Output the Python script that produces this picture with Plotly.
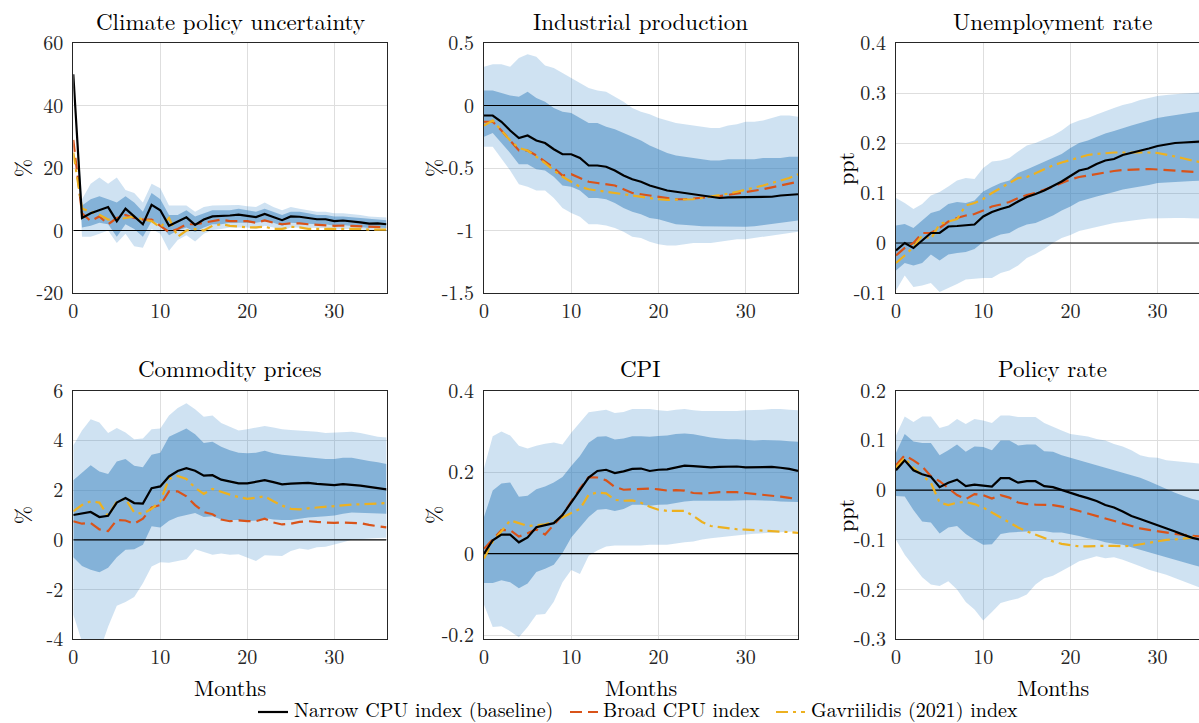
import plotly.graph_objects as go

# ---------------------------------------------------------------
# Impulse responses to a climate policy uncertainty shock (months 0-36)
# Narrow CPU index (baseline) with 68% and 90% bands, plus two
# alternative CPU measures.
# ---------------------------------------------------------------
months = list(range(37))

# Climate policy uncertainty (%)
cpu_narrow = [50, 4, 5.5, 6.5, 7.5, 3, 7, 4.5, 2, 8.2, 6.5, 1.5, 2.8, 4.2, 1.8, 3.5, 4.5, 4.6, 4.8, 5.1,
              4.6, 4.3, 5.3, 4.3, 3.3, 4.5, 4.4, 4.0, 3.6, 3.6, 3.0, 3.2, 3.0, 2.6, 2.2, 2.3, 2.0]
cpu_broad = [29, 5.5, 3, 4.5, 2, 4, 5, 4, 3.5, 3.5, 1.5, -0.5, 0.5, 2, 2, 2.5, 3, 3.5, 3, 3,
             3, 2.5, 3.2, 2.5, 2, 2.3, 2.3, 2, 1.8, 1.8, 1.5, 1.6, 1.5, 1.3, 1.1, 1.1, 1.0]
cpu_gav = [25, 7, 6, 5, 3.5, 3.5, 4, 4.5, 3.5, 3, 1, 4, -2, 0, 0.5, 0, 1.5, 2, 1.5, 1.2,
           1, 1, 1.2, 0.5, 0.5, 1.2, 1, 0.5, 0.5, 0.5, 0.7, 0.5, 0.5, 0.5, 0.3, 0.3, 0.3]
cpu_hi68 = [50, 8, 10, 11, 10, 9, 11, 9, 6, 12, 10, 5, 5, 6.5, 4.5, 5.5, 6.5, 6.5, 6.5, 7,
            6.5, 6, 7, 6, 5, 6, 6, 5.5, 5, 5, 4.5, 4.5, 4.3, 4, 3.7, 3.5, 3.3]
cpu_lo68 = [50, 1, 1.5, 2.5, 2, -2, 2, 0.5, -2, 3, 2, -1.5, 0, 1, -0.5, 1, 2, 2, 2.5, 2.5,
            2.5, 2.5, 3, 2.5, 1.5, 2.5, 2.5, 2.2, 2, 2, 1.5, 1.8, 1.5, 1.2, 0.8, 1, 0.8]
cpu_hi90 = [50, 10, 15, 17, 15, 17, 13, 12, 9, 15, 13.5, 8, 8, 8, 6, 7.5, 8, 8, 8, 8.2,
            7.8, 7.5, 9, 7.5, 6.5, 7.5, 7, 6.5, 6, 6, 5.5, 5.5, 5.3, 5, 4.5, 4.3, 4.2]
cpu_lo90 = [50, -2, -2, -1, 0, -4, -1, -5, -5.5, 0.5, -1, -6.5, -3, -1.5, -3.5, -1, 0.2, 0.5, 1, 1,
            1, 0.5, 1.5, 1, 0, 1, 1, 0.8, 0.8, 0.8, 0.3, 0.5, 0.5, 0.2, 0, 0, -0.2]

# Industrial production (%)
ip_narrow = [-0.08, -0.08, -0.13, -0.2, -0.26, -0.24, -0.28, -0.3, -0.35, -0.39, -0.39, -0.42, -0.48,
             -0.48, -0.49, -0.52, -0.56, -0.59, -0.61, -0.64, -0.66, -0.68, -0.69, -0.70, -0.71, -0.72,
             -0.73, -0.74, -0.735, -0.735, -0.735, -0.735, -0.735, -0.73, -0.72, -0.715, -0.71]
ip_broad = [-0.13, -0.13, -0.2, -0.28, -0.36, -0.36, -0.4, -0.45, -0.5, -0.56, -0.55, -0.58, -0.61,
            -0.62, -0.63, -0.64, -0.67, -0.70, -0.71, -0.72, -0.73, -0.74, -0.75, -0.75, -0.745, -0.74,
            -0.735, -0.725, -0.715, -0.705, -0.695, -0.68, -0.67, -0.655, -0.64, -0.625, -0.61]
ip_gav = [-0.16, -0.12, -0.2, -0.28, -0.34, -0.36, -0.41, -0.46, -0.52, -0.57, -0.61, -0.65, -0.67,
          -0.68, -0.69, -0.7, -0.71, -0.72, -0.73, -0.745, -0.75, -0.755, -0.755, -0.755, -0.75, -0.74,
          -0.73, -0.72, -0.705, -0.69, -0.675, -0.66, -0.64, -0.62, -0.6, -0.58, -0.55]
ip_hi68 = [0.12, 0.12, 0.1, 0.08, 0.07, 0.11, 0.06, 0.03, -0.02, -0.05, -0.06, -0.1, -0.14, -0.14,
           -0.17, -0.19, -0.22, -0.25, -0.28, -0.32, -0.35, -0.38, -0.40, -0.41, -0.42, -0.43, -0.44,
           -0.44, -0.43, -0.43, -0.43, -0.43, -0.42, -0.42, -0.42, -0.41, -0.41]
ip_lo68 = [-0.25, -0.22, -0.3, -0.38, -0.47, -0.47, -0.51, -0.52, -0.57, -0.64, -0.65, -0.68, -0.74,
           -0.74, -0.75, -0.78, -0.82, -0.85, -0.87, -0.9, -0.91, -0.93, -0.95, -0.955, -0.96, -0.965,
           -0.97, -0.97, -0.97, -0.97, -0.97, -0.965, -0.96, -0.95, -0.94, -0.93, -0.92]
ip_hi90 = [0.31, 0.33, 0.33, 0.31, 0.38, 0.41, 0.39, 0.32, 0.3, 0.26, 0.22, 0.18, 0.14, 0.12, 0.11,
           0.07, 0.03, -0.02, -0.05, -0.07, -0.1, -0.12, -0.14, -0.15, -0.16, -0.17, -0.18, -0.18,
           -0.16, -0.15, -0.13, -0.13, -0.12, -0.1, -0.08, -0.08, -0.09]
ip_lo90 = [-0.33, -0.33, -0.42, -0.52, -0.63, -0.65, -0.68, -0.68, -0.74, -0.82, -0.86, -0.89, -0.95,
           -0.95, -0.96, -0.98, -1.01, -1.05, -1.06, -1.09, -1.11, -1.12, -1.12, -1.11, -1.1, -1.1,
           -1.1, -1.09, -1.08, -1.07, -1.07, -1.06, -1.05, -1.04, -1.03, -1.02, -1.01]

# Unemployment rate (ppt)
ur_narrow = [-0.015, 0.0, -0.01, 0.005, 0.02, 0.02, 0.033, 0.034, 0.035, 0.037, 0.053, 0.062, 0.068,
             0.073, 0.083, 0.092, 0.098, 0.105, 0.114, 0.123, 0.134, 0.145, 0.149, 0.158, 0.165, 0.168,
             0.176, 0.18, 0.184, 0.189, 0.194, 0.197, 0.2, 0.201, 0.202, 0.203, 0.204]
ur_broad = [-0.025, -0.01, 0.0, 0.02, 0.02, 0.03, 0.043, 0.05, 0.055, 0.058, 0.065, 0.073, 0.077,
            0.082, 0.09, 0.096, 0.1, 0.106, 0.113, 0.12, 0.127, 0.132, 0.135, 0.139, 0.142, 0.144,
            0.146, 0.147, 0.148, 0.148, 0.147, 0.146, 0.145, 0.144, 0.142, 0.141, 0.14]
ur_gav = [-0.04, -0.025, -0.008, 0.015, 0.008, 0.038, 0.043, 0.048, 0.075, 0.08, 0.088, 0.1, 0.11,
          0.12, 0.13, 0.132, 0.14, 0.148, 0.155, 0.161, 0.166, 0.172, 0.176, 0.178, 0.18, 0.181,
          0.181, 0.181, 0.182, 0.181, 0.18, 0.177, 0.173, 0.169, 0.165, 0.161, 0.157]
ur_hi68 = [0.035, 0.038, 0.03, 0.045, 0.06, 0.065, 0.078, 0.082, 0.08, 0.085, 0.103, 0.112, 0.12,
           0.125, 0.14, 0.147, 0.155, 0.162, 0.17, 0.178, 0.19, 0.2, 0.205, 0.212, 0.219, 0.224,
           0.23, 0.235, 0.24, 0.245, 0.25, 0.253, 0.256, 0.258, 0.261, 0.263, 0.265]
ur_lo68 = [-0.055, -0.04, -0.045, -0.04, -0.023, -0.035, -0.023, -0.02, -0.018, -0.012, 0.002, 0.01,
           0.017, 0.02, 0.03, 0.037, 0.04, 0.047, 0.055, 0.065, 0.073, 0.083, 0.088, 0.093, 0.098,
           0.102, 0.107, 0.11, 0.113, 0.116, 0.12, 0.121, 0.122, 0.123, 0.124, 0.125, 0.125]
ur_hi90 = [0.09, 0.08, 0.068, 0.078, 0.095, 0.102, 0.113, 0.125, 0.13, 0.128, 0.15, 0.163, 0.165,
           0.17, 0.183, 0.195, 0.2, 0.207, 0.215, 0.225, 0.238, 0.245, 0.25, 0.257, 0.264, 0.27,
           0.276, 0.28, 0.286, 0.29, 0.294, 0.296, 0.298, 0.299, 0.3, 0.302, 0.303]
ur_lo90 = [-0.095, -0.065, -0.088, -0.085, -0.08, -0.098, -0.09, -0.082, -0.073, -0.072, -0.07, -0.07,
           -0.06, -0.055, -0.045, -0.03, -0.022, -0.012, 0.0, 0.01, 0.016, 0.024, 0.028, 0.032, 0.036,
           0.04, 0.042, 0.045, 0.047, 0.049, 0.05, 0.05, 0.05, 0.05, 0.05, 0.049, 0.048]

# Commodity prices (%)
com_narrow = [1.0, 1.05, 1.12, 0.92, 0.97, 1.5, 1.68, 1.48, 1.46, 2.08, 2.15, 2.55, 2.77, 2.88, 2.78,
              2.58, 2.6, 2.42, 2.33, 2.27, 2.27, 2.32, 2.4, 2.32, 2.23, 2.26, 2.27, 2.29, 2.25, 2.21,
              2.2, 2.24, 2.22, 2.18, 2.13, 2.08, 2.03]
com_broad = [0.75, 0.65, 0.68, 0.42, 0.35, 0.8, 0.78, 0.65, 0.85, 1.3, 1.4, 1.95, 1.95, 1.75, 1.4,
             1.12, 1.03, 0.82, 0.75, 0.78, 0.75, 0.75, 0.85, 0.7, 0.62, 0.65, 0.72, 0.75, 0.72, 0.7,
             0.68, 0.7, 0.7, 0.67, 0.6, 0.55, 0.5]
com_gav = [1.15, 1.4, 1.55, 1.5, 0.95, 1.55, 1.65, 1.1, 1.05, 1.25, 1.55, 2.45, 2.57, 2.45, 2.1, 1.85,
           2.05, 1.92, 1.82, 1.72, 1.65, 1.7, 1.75, 1.55, 1.38, 1.25, 1.23, 1.27, 1.3, 1.32, 1.38,
           1.4, 1.42, 1.43, 1.44, 1.46, 1.48]
com_hi68 = [2.4, 2.7, 3.0, 2.75, 2.65, 3.15, 3.25, 2.98, 2.92, 3.42, 3.5, 4.15, 4.3, 4.48, 4.25, 3.9,
            3.95, 3.75, 3.6, 3.5, 3.48, 3.5, 3.58, 3.48, 3.42, 3.38, 3.35, 3.3, 3.28, 3.25, 3.25,
            3.3, 3.3, 3.25, 3.17, 3.12, 3.05]
com_lo68 = [-0.7, -1.05, -1.2, -1.3, -1.12, -0.7, -0.4, -0.38, -0.2, 0.55, 0.5, 0.77, 0.92, 1.0, 1.08,
            0.92, 0.95, 0.82, 0.8, 0.8, 0.75, 0.78, 0.88, 0.82, 0.8, 0.8, 0.85, 0.9, 0.93, 0.95,
            0.98, 1.05, 1.1, 1.1, 1.08, 1.06, 1.05]
com_hi90 = [3.8, 4.4, 4.85, 4.72, 4.3, 4.5, 4.32, 4.05, 4.08, 4.45, 4.48, 5.0, 5.3, 5.5, 5.25, 4.95,
            5.0, 4.7, 4.55, 4.4, 4.45, 4.5, 4.58, 4.52, 4.45, 4.42, 4.4, 4.35, 4.35, 4.3, 4.32,
            4.35, 4.35, 4.3, 4.22, 4.15, 4.12]
com_lo90 = [-3.0, -4.1, -5.0, -4.5, -3.5, -2.65, -2.5, -2.3, -1.75, -1.07, -0.9, -0.92, -0.86, -0.78,
            -0.38, -0.5, -0.6, -0.55, -0.6, -0.58, -0.7, -0.85, -0.62, -0.62, -0.65, -0.45, -0.35,
            -0.4, -0.3, -0.28, -0.2, -0.1, 0.0, 0.02, 0.05, 0.07, 0.08]

# CPI (%)
cpi_narrow = [0.0, 0.033, 0.047, 0.047, 0.028, 0.04, 0.065, 0.07, 0.075, 0.095, 0.125, 0.158, 0.187,
              0.203, 0.206, 0.198, 0.202, 0.208, 0.209, 0.203, 0.206, 0.207, 0.212, 0.216, 0.215,
              0.213, 0.212, 0.213, 0.214, 0.214, 0.212, 0.212, 0.213, 0.213, 0.211, 0.208, 0.203]
cpi_broad = [0.012, 0.035, 0.058, 0.058, 0.042, 0.05, 0.06, 0.047, 0.07, 0.095, 0.128, 0.16, 0.188,
             0.187, 0.18, 0.164, 0.157, 0.158, 0.16, 0.16, 0.158, 0.155, 0.156, 0.155, 0.149, 0.148,
             0.149, 0.151, 0.151, 0.151, 0.149, 0.147, 0.145, 0.143, 0.14, 0.137, 0.134]
cpi_gav = [-0.012, 0.03, 0.055, 0.082, 0.075, 0.068, 0.07, 0.072, 0.078, 0.09, 0.1, 0.11, 0.145, 0.15,
           0.148, 0.132, 0.13, 0.131, 0.125, 0.115, 0.108, 0.105, 0.105, 0.105, 0.093, 0.078, 0.068,
           0.065, 0.063, 0.06, 0.059, 0.058, 0.057, 0.056, 0.055, 0.053, 0.051]
cpi_hi68 = [0.09, 0.155, 0.172, 0.175, 0.14, 0.142, 0.158, 0.165, 0.175, 0.188, 0.215, 0.24, 0.272,
            0.287, 0.288, 0.28, 0.283, 0.288, 0.288, 0.287, 0.289, 0.29, 0.294, 0.295, 0.293, 0.289,
            0.285, 0.283, 0.281, 0.281, 0.279, 0.278, 0.279, 0.279, 0.278, 0.276, 0.275]
cpi_lo68 = [-0.072, -0.072, -0.065, -0.07, -0.085, -0.073, -0.045, -0.037, -0.027, 0.002, 0.04, 0.065,
            0.09, 0.108, 0.11, 0.105, 0.11, 0.12, 0.12, 0.118, 0.12, 0.121, 0.125, 0.128, 0.13, 0.13,
            0.13, 0.13, 0.13, 0.13, 0.131, 0.131, 0.131, 0.13, 0.128, 0.127, 0.127]
cpi_hi90 = [0.21, 0.288, 0.3, 0.29, 0.265, 0.258, 0.265, 0.27, 0.273, 0.268, 0.297, 0.323, 0.347,
            0.35, 0.353, 0.345, 0.348, 0.355, 0.355, 0.355, 0.352, 0.35, 0.353, 0.355, 0.352, 0.35,
            0.35, 0.35, 0.35, 0.35, 0.352, 0.352, 0.353, 0.355, 0.355, 0.353, 0.352]
cpi_lo90 = [-0.125, -0.18, -0.178, -0.19, -0.205, -0.18, -0.15, -0.148, -0.118, -0.07, -0.04, -0.05,
            -0.005, 0.008, 0.018, 0.02, 0.02, 0.02, 0.02, 0.022, 0.022, 0.022, 0.025, 0.028, 0.03,
            0.035, 0.038, 0.04, 0.042, 0.045, 0.047, 0.049, 0.05, 0.052, 0.053, 0.054, 0.055]

# Policy rate (ppt)
pr_narrow = [0.04, 0.06, 0.04, 0.032, 0.027, 0.006, 0.015, 0.021, 0.008, 0.011, 0.009, 0.007, 0.024,
             0.024, 0.015, 0.018, 0.018, 0.008, 0.006, 0.0, -0.006, -0.011, -0.016, -0.022, -0.03,
             -0.035, -0.043, -0.052, -0.058, -0.064, -0.071, -0.077, -0.083, -0.09, -0.096, -0.1, -0.104]
pr_broad = [0.05, 0.07, 0.06, 0.048, 0.028, 0.018, 0.004, -0.01, -0.018, -0.008, -0.01, -0.017, -0.01,
            -0.015, -0.025, -0.028, -0.029, -0.03, -0.03, -0.033, -0.037, -0.042, -0.047, -0.052,
            -0.057, -0.062, -0.068, -0.073, -0.077, -0.08, -0.083, -0.086, -0.088, -0.09, -0.092,
            -0.094, -0.095]
pr_gav = [0.045, 0.065, 0.045, 0.03, 0.015, -0.025, -0.03, -0.025, -0.024, -0.028, -0.035, -0.045,
          -0.055, -0.065, -0.075, -0.083, -0.09, -0.097, -0.103, -0.108, -0.111, -0.113, -0.113,
          -0.112, -0.112, -0.112, -0.113, -0.112, -0.109, -0.106, -0.103, -0.1, -0.099, -0.097,
          -0.096, -0.094, -0.092]
pr_hi68 = [0.075, 0.113, 0.098, 0.095, 0.095, 0.07, 0.08, 0.092, 0.077, 0.088, 0.087, 0.08, 0.1, 0.1,
           0.09, 0.092, 0.092, 0.078, 0.077, 0.07, 0.065, 0.06, 0.055, 0.05, 0.045, 0.04, 0.035, 0.03,
           0.025, 0.018, 0.01, 0.003, -0.005, -0.012, -0.018, -0.022, -0.025]
pr_lo68 = [-0.012, -0.013, -0.04, -0.063, -0.065, -0.087, -0.075, -0.072, -0.088, -0.1, -0.11, -0.109,
           -0.088, -0.085, -0.085, -0.083, -0.082, -0.082, -0.085, -0.085, -0.088, -0.092, -0.097,
           -0.1, -0.105, -0.108, -0.11, -0.115, -0.12, -0.125, -0.13, -0.135, -0.14, -0.145, -0.15,
           -0.155, -0.158]
pr_hi90 = [0.11, 0.148, 0.137, 0.148, 0.148, 0.125, 0.13, 0.143, 0.133, 0.143, 0.14, 0.135, 0.15, 0.15,
           0.147, 0.147, 0.147, 0.135, 0.127, 0.12, 0.113, 0.111, 0.108, 0.103, 0.1, 0.093, 0.088,
           0.08, 0.07, 0.066, 0.065, 0.06, 0.058, 0.057, 0.055, 0.053, 0.052]
pr_lo90 = [-0.1, -0.13, -0.152, -0.175, -0.19, -0.193, -0.183, -0.2, -0.225, -0.24, -0.262, -0.245,
           -0.227, -0.222, -0.218, -0.21, -0.19, -0.177, -0.172, -0.162, -0.153, -0.143, -0.138,
           -0.133, -0.137, -0.135, -0.14, -0.146, -0.153, -0.16, -0.165, -0.17, -0.177, -0.183,
           -0.19, -0.197, -0.2]

# Panel titles, units and axis ticks
titles = ["Climate policy uncertainty", "Industrial production", "Unemployment rate",
          "Commodity prices", "CPI", "Policy rate"]
units = ["%", "%", "ppt", "%", "%", "ppt"]
y_ranges = [[-20, 60], [-1.5, 0.5], [-0.1, 0.4], [-4, 6], [-0.21, 0.4], [-0.3, 0.2]]
y_tickvals = [[-20, 0, 20, 40, 60], [-1.5, -1, -0.5, 0, 0.5], [-0.1, 0, 0.1, 0.2, 0.3, 0.4],
              [-4, -2, 0, 2, 4, 6], [-0.2, 0, 0.2, 0.4], [-0.3, -0.2, -0.1, 0, 0.1, 0.2]]
y_ticktext = [["-20", "0", "20", "40", "60"], ["-1.5", "-1", "-0.5", "0", "0.5"],
              ["-0.1", "0", "0.1", "0.2", "0.3", "0.4"], ["-4", "-2", "0", "2", "4", "6"],
              ["-0.2", "0", "0.2", "0.4"], ["-0.3", "-0.2", "-0.1", "0", "0.1", "0.2"]]
x_tickvals = [0, 10, 20, 30]
series_names = ["Narrow CPU index (baseline)", "Broad CPU index", "Gavriilidis (2021) index"]

panels = [
    (cpu_narrow, cpu_broad, cpu_gav, cpu_hi68, cpu_lo68, cpu_hi90, cpu_lo90),
    (ip_narrow, ip_broad, ip_gav, ip_hi68, ip_lo68, ip_hi90, ip_lo90),
    (ur_narrow, ur_broad, ur_gav, ur_hi68, ur_lo68, ur_hi90, ur_lo90),
    (com_narrow, com_broad, com_gav, com_hi68, com_lo68, com_hi90, com_lo90),
    (cpi_narrow, cpi_broad, cpi_gav, cpi_hi68, cpi_lo68, cpi_hi90, cpi_lo90),
    (pr_narrow, pr_broad, pr_gav, pr_hi68, pr_lo68, pr_hi90, pr_lo90),
]

# ---------------------------------------------------------------
W, H = 1199, 723
FONT = "Latin Modern Roman"
INK = "rgb(38,38,38)"
BAND90 = "rgba(30,120,195,0.21)"
BAND68 = "rgba(58,129,190,0.5)"
GRID = "rgb(222,222,222)"
RED = "rgb(217,83,25)"
YELLOW = "rgb(237,177,32)"
RED_DASH = "12px,6px"
YEL_DASH = "12px,5px,3px,5px"
LINE_STYLES = [dict(color="black", width=2.2),
               dict(color=RED, width=2.2, dash=RED_DASH),
               dict(color=YELLOW, width=2.2, dash=YEL_DASH)]

# plot-area positions (pixels): columns left/right, rows top/bottom
col_px = [(73.3, 386.5), (484.0, 798.0), (896.0, 1199.0)]
row_px = [(43.0, 293.0), (390.7, 639.3)]
PX_PER_MONTH = 8.72
x_max = [36, 36, (1199.0 - 896.0) / PX_PER_MONTH]

fig = go.Figure()
layout = dict(
    width=W, height=H, margin=dict(l=0, r=0, t=0, b=0, autoexpand=False),
    paper_bgcolor="white", plot_bgcolor="white",
    font=dict(family=FONT, size=20, color=INK),
    showlegend=False,
)
annotations = []
shapes = []

for i, (narrow, broad, gav, hi68, lo68, hi90, lo90) in enumerate(panels):
    r, c = divmod(i, 3)
    n = i + 1
    xa = "x" if n == 1 else f"x{n}"
    ya = "y" if n == 1 else f"y{n}"
    (x0, x1), (top, bot) = col_px[c], row_px[r]
    x_center = (x0 + x0 + 36 * PX_PER_MONTH) / 2

    # 90% and 68% bands
    fig.add_trace(go.Scatter(x=months + months[::-1], y=hi90 + lo90[::-1], fill="toself",
                             fillcolor=BAND90, line=dict(width=0), mode="lines",
                             hoverinfo="skip", xaxis=xa, yaxis=ya))
    fig.add_trace(go.Scatter(x=months + months[::-1], y=hi68 + lo68[::-1], fill="toself",
                             fillcolor=BAND68, line=dict(width=0), mode="lines",
                             hoverinfo="skip", xaxis=xa, yaxis=ya))
    # zero line
    fig.add_trace(go.Scatter(x=[0, 36], y=[0, 0], mode="lines",
                             line=dict(color="black", width=1.2),
                             hoverinfo="skip", xaxis=xa, yaxis=ya))
    # responses (broad, Gavriilidis, then baseline on top)
    for k, series in ((1, broad), (2, gav), (0, narrow)):
        fig.add_trace(go.Scatter(x=months, y=series, mode="lines", name=series_names[k],
                                 line=LINE_STYLES[k], xaxis=xa, yaxis=ya))

    layout["xaxis" if n == 1 else f"xaxis{n}"] = dict(
        domain=[x0 / W, x1 / W], anchor=ya, range=[0, x_max[c]],
        tickvals=x_tickvals, ticktext=[str(v) for v in x_tickvals],
        showgrid=True, gridcolor=GRID, gridwidth=1, zeroline=False,
        showline=True, linecolor=INK, linewidth=1.2, mirror=True,
        ticks="", tickfont=dict(size=20, family=FONT, color=INK),
    )
    layout["yaxis" if n == 1 else f"yaxis{n}"] = dict(
        domain=[1 - bot / H, 1 - top / H], anchor=xa, range=y_ranges[i],
        tickvals=y_tickvals[i], ticktext=y_ticktext[i],
        showgrid=True, gridcolor=GRID, gridwidth=1, zeroline=False,
        showline=True, linecolor=INK, linewidth=1.2, mirror=(c != 2),
        ticks="", ticklabelstandoff=5, tickfont=dict(size=20, family=FONT, color=INK),
    )

    # panel title
    annotations.append(dict(text=titles[i], x=x_center / W, y=1 - (top - 23) / H,
                            xref="paper", yref="paper", xanchor="center", yanchor="middle",
                            showarrow=False, font=dict(size=23, family=FONT, color="black")))
    # unit label
    annotations.append(dict(text=units[i], x=(x0 - 52) / W, y=1 - (top + bot) / 2 / H,
                            xref="paper", yref="paper", xanchor="center", yanchor="middle",
                            textangle=-90, showarrow=False,
                            font=dict(size=22, family=FONT, color="black")))
    if r == 1:
        annotations.append(dict(text="Months", x=x_center / W, y=1 - 686 / H,
                                xref="paper", yref="paper", xanchor="center", yanchor="middle",
                                borderpad=0, showarrow=False,
                                font=dict(size=22, family=FONT, color="black")))

# legend row beneath the panels: line sample + label for each series
legend_line_px = [(258, 288), (570, 598), (776, 805)]
legend_text_px = [293, 602, 810]
LEGEND_LINE_Y = 712
LEGEND_TEXT_Y = 708
for k in range(3):
    lx0, lx1 = legend_line_px[k]
    shapes.append(dict(type="line", xref="paper", yref="paper",
                       x0=lx0 / W, x1=lx1 / W, y0=1 - LEGEND_LINE_Y / H, y1=1 - LEGEND_LINE_Y / H,
                       line=LINE_STYLES[k]))
    annotations.append(dict(text=series_names[k], x=legend_text_px[k] / W, y=1 - LEGEND_TEXT_Y / H,
                            xref="paper", yref="paper", xanchor="left", yanchor="middle",
                            borderpad=0, showarrow=False,
                            font=dict(size=20, family=FONT, color="black")))

layout["annotations"] = annotations
layout["shapes"] = shapes
fig.update_layout(**layout)
fig.write_html("out.html")
